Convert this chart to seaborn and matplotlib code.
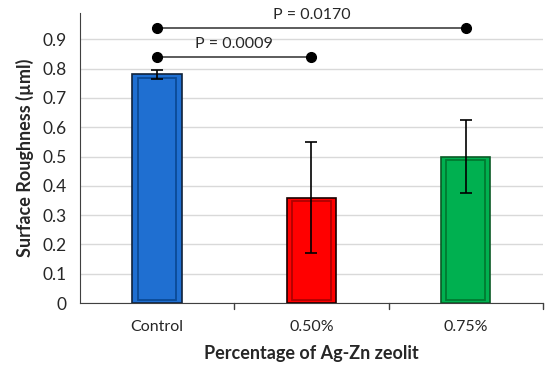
import pandas as pd
import matplotlib.pyplot as plt
import seaborn as sns

# Data
kategori = ['Control', '0.50%', '0.75%']
nilai = [0.78, 0.36, 0.50]
galat = [0.015, 0.19, 0.125]
warna = ['#1F6FD1', '#FF0000', '#00B050']
warna_tepi = ['#10223A', '#1A0000', '#0A5A25']
warna_bayang = ['#0B4A96', '#B00000', '#007A30']

# Perbandingan: (grup 1, grup 2, tinggi garis, teks)
banding_a = ['Control', 'Control']
banding_b = ['0.50%', '0.75%']
banding_y = [0.84, 0.94]
banding_teks = ['P = 0.0009', 'P = 0.0170']

df = pd.DataFrame({'Kelompok': kategori, 'Nilai': nilai, 'Galat': galat})

sns.set_style('white')
plt.rcParams['font.family'] = ['Lato', 'DejaVu Sans']

fig = plt.figure(figsize=(5.5, 3.7), dpi=100)
ax = fig.add_axes([0.1455, 0.181, 0.8415, 0.784])

sns.barplot(data=df, x='Kelompok', y='Nilai', hue='Kelompok',
            palette=warna, saturation=1, width=0.32, edgecolor='black',
            linewidth=1.2, legend=False, ax=ax, zorder=3)
for patch, tepi in zip(ax.patches, warna_tepi):
    patch.set_edgecolor(tepi)

# Efek bevel sederhana
sns.barplot(data=df, x='Kelompok', y='Nilai', hue='Kelompok',
            palette=warna, saturation=1, width=0.25, fill=False, linewidth=1.3,
            legend=False, ax=ax, zorder=4)
for patch, bayang in zip(ax.patches[3:], warna_bayang):
    patch.set_edgecolor(bayang)
    patch.set_height(patch.get_height() - 0.025)
    patch.set_y(0.012)

x_pos = range(len(kategori))
ax.errorbar(x_pos, df['Nilai'], yerr=df['Galat'], fmt='none', ecolor='black',
            elinewidth=1.2, capsize=4, capthick=1.2, zorder=5)

# Garis signifikansi
for a, b, y, t in zip(banding_a, banding_b, banding_y, banding_teks):
    xa, xb = kategori.index(a), kategori.index(b)
    ax.plot([xa, xb], [y, y], color='#404040', lw=1.2, zorder=5)
    ax.plot([xa, xb], [y, y], 'o', color='black', ms=7, zorder=6)
    ax.text((xa + xb) / 2, y + 0.02, t, ha='center', va='bottom', fontsize=11.5)

ax.set_ylim(0, 0.99)
ax.set_xlim(-0.5, 2.5)
ax.set_yticks([i / 10 for i in range(10)])
ax.set_yticklabels(['0'] + [f'{i / 10:.1f}' for i in range(1, 10)], fontsize=12.5)
ax.tick_params(axis='x', labelsize=11.5, length=0, pad=12)
ax.tick_params(axis='y', left=False, pad=6)
ax.grid(axis='y', color='#D9D9D9', lw=1, zorder=0)
ax.set_axisbelow(True)

for s in ['top', 'right']:
    ax.spines[s].set_visible(False)
ax.spines['left'].set_color('#404040')
ax.spines['bottom'].set_color('#404040')

# Tanda batas kategori di sumbu x
ax.set_xticks([0, 1, 2])
for b in [0.5, 1.5, 2.5]:
    ax.plot([b, b], [0, -0.02], color='#404040', lw=1, clip_on=False)

ax.set_xlabel('Percentage of Ag-Zn zeolit', fontsize=13, fontweight='bold', labelpad=8)
ax.set_ylabel('Surface Roughness (µml)', fontsize=13, fontweight='bold', labelpad=6)

fig.savefig('out.png', dpi=100)
